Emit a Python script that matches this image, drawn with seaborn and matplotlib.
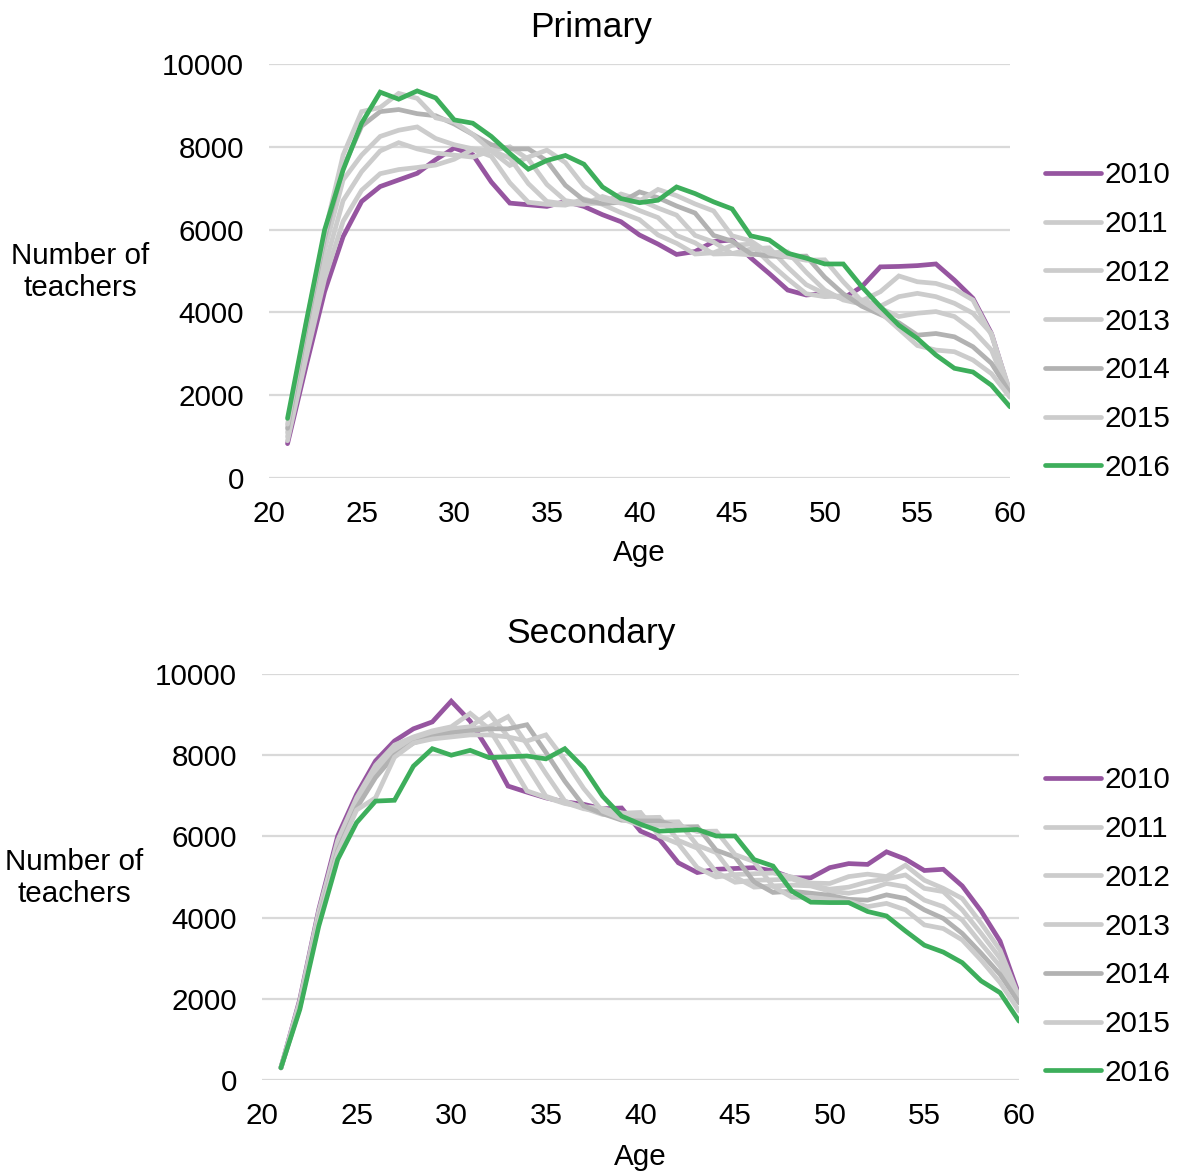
import numpy as np
import pandas as pd
import matplotlib
matplotlib.use("Agg")
import matplotlib.pyplot as plt
import seaborn as sns

sns.set_style("white")
plt.rcParams['font.family'] = ['Liberation Sans', 'DejaVu Sans']
plt.rcParams['text.color'] = 'black'
plt.rcParams['xtick.color'] = 'black'
plt.rcParams['ytick.color'] = 'black'

ages = list(range(21, 61))
years = ['2010', '2011', '2012', '2013', '2014', '2015', '2016']

# ---- Primary (ages 21..60)
primary = {
    '2010': [830, 2700, 4500, 5830, 6680, 7040, 7200, 7360, 7690, 7970,
             7810, 7150, 6640, 6600, 6560, 6680, 6560, 6360, 6190, 5870,
             5650, 5400, 5470, 5710, 5750, 5320, 4940, 4540, 4420, 4460,
             4340, 4620, 5100, 5110, 5130, 5170, 4780, 4340, 3490, 2050],
    '2011': [900, 2900, 4800, 6200, 6950, 7350, 7450, 7500, 7560, 7700,
             7940, 7770, 7130, 6660, 6610, 6590, 6740, 6610, 6410, 6240,
             5870, 5670, 5410, 5440, 5620, 5650, 5200, 4810, 4450, 4380,
             4400, 4280, 4500, 4880, 4740, 4700, 4560, 4300, 3450, 2100],
    '2012': [1000, 3100, 5100, 6700, 7400, 7900, 8100, 7950, 7850, 7800,
             7750, 7910, 7730, 7110, 6680, 6620, 6610, 6800, 6660, 6460,
             6290, 5860, 5680, 5410, 5420, 5530, 5560, 5090, 4670, 4450,
             4330, 4300, 4150, 4380, 4460, 4380, 4220, 3980, 3490, 2000],
    '2013': [1100, 3400, 5500, 7200, 7800, 8250, 8400, 8480, 8200, 8050,
             7950, 7900, 8000, 7700, 7090, 6700, 6630, 6640, 6860, 6720,
             6520, 6350, 5860, 5700, 5420, 5390, 5440, 5460, 4970, 4540,
             4300, 4200, 4100, 3900, 3980, 4020, 3900, 3570, 3090, 2000],
    '2014': [1200, 3600, 5800, 7500, 8500, 8850, 8900, 8800, 8750, 8550,
             8300, 8050, 7950, 7950, 7660, 7070, 6710, 6630, 6660, 6910,
             6770, 6570, 6400, 5860, 5720, 5420, 5360, 5350, 5360, 4850,
             4450, 4150, 3950, 3750, 3450, 3490, 3410, 3170, 2770, 2050],
    '2015': [1300, 3700, 5900, 7800, 8850, 8950, 9290, 9170, 8700, 8600,
             8300, 7900, 7550, 7750, 7920, 7620, 7050, 6730, 6640, 6690,
             6970, 6820, 6620, 6450, 5850, 5730, 5430, 5340, 5260, 5270,
             4740, 4270, 4000, 3600, 3200, 3090, 3050, 2850, 2520, 1950],
    '2016': [1440, 3750, 5990, 7440, 8570, 9320, 9150, 9350, 9180, 8650,
             8570, 8250, 7840, 7460, 7670, 7790, 7580, 7030, 6750, 6650,
             6710, 7030, 6870, 6670, 6500, 5850, 5750, 5430, 5310, 5170,
             5170, 4620, 4140, 3690, 3370, 2970, 2650, 2560, 2240, 1720],
}

# ---- Secondary
secondary = {
    '2010': [300, 1990, 4200, 6010, 7040, 7860, 8350, 8650, 8820, 9330,
             8840, 8100, 7240, 7090, 6950, 6850, 6790, 6680, 6700, 6130,
             5930, 5350, 5110, 5190, 5210, 5230, 5150, 4980, 4980, 5230,
             5330, 5310, 5620, 5440, 5160, 5190, 4780, 4160, 3420, 2100],
    '2011': [300, 1950, 4150, 5900, 6950, 7750, 8250, 8450, 8600, 8700,
             9030, 8650, 7900, 7120, 6960, 6810, 6730, 6690, 6570, 6590,
             6010, 5820, 5230, 5000, 5060, 5080, 5100, 5000, 4850, 4840,
             5010, 5070, 5010, 5290, 4920, 4720, 4470, 3860, 3200, 2050],
    '2012': [300, 1900, 4100, 5800, 6850, 7650, 8200, 8400, 8550, 8650,
             8700, 9030, 8460, 7730, 6990, 6830, 6680, 6620, 6580, 6460,
             6470, 5900, 5710, 5120, 4870, 4920, 4930, 4950, 4800, 4700,
             4750, 4880, 4950, 5050, 4720, 4640, 4190, 3610, 3000, 2000],
    '2013': [300, 1850, 4000, 5700, 6800, 7550, 8100, 8350, 8500, 8600,
             8650, 8700, 8950, 8270, 7550, 6870, 6700, 6540, 6500, 6480,
             6350, 6360, 5780, 5600, 5000, 4750, 4780, 4800, 4780, 4650,
             4600, 4680, 4840, 4760, 4430, 4270, 3940, 3360, 2800, 1950],
    '2014': [300, 1800, 3950, 5650, 6700, 7450, 8000, 8300, 8450, 8550,
             8600, 8650, 8650, 8750, 8070, 7360, 6750, 6560, 6400, 6380,
             6380, 6230, 6240, 5660, 5490, 4880, 4620, 4650, 4600, 4550,
             4450, 4430, 4560, 4470, 4190, 3980, 3610, 3120, 2600, 1900],
    '2015': [300, 1800, 3900, 5600, 6650, 6950, 7950, 8300, 8400, 8450,
             8500, 8500, 8450, 8350, 8500, 7880, 7180, 6620, 6430, 6270,
             6270, 6270, 6120, 6130, 5550, 5380, 4770, 4500, 4500, 4450,
             4400, 4270, 4350, 4190, 3820, 3730, 3450, 2950, 2400, 1700],
    '2016': [300, 1740, 3790, 5430, 6340, 6870, 6890, 7730, 8160, 8000,
             8120, 7940, 7960, 7980, 7910, 8160, 7690, 6990, 6500, 6300,
             6130, 6150, 6170, 6010, 6010, 5430, 5270, 4650, 4380, 4370,
             4370, 4150, 4040, 3670, 3320, 3150, 2890, 2440, 2150, 1450],
}

colors = {'2010': '#9655A0', '2011': '#CCCCCC', '2012': '#CCCCCC',
          '2013': '#CCCCCC', '2014': '#B2B2B2', '2015': '#CCCCCC',
          '2016': '#3DAE5B'}
alphas = {'2010': 1.0, '2011': 0.75, '2012': 0.75, '2013': 0.75,
          '2014': 0.8, '2015': 0.75, '2016': 1.0}

FS = 21.3

fig = plt.figure(figsize=(11.77, 11.71), dpi=100)
ax_top = fig.add_axes([269/1177, 1 - 478/1171, 741/1177, 414/1171])
ax_bot = fig.add_axes([262/1177, 1 - 1080/1171, 757/1177, 406/1171])


def draw(ax, data, leg_x):
    for yr in years:
        sns.lineplot(x=ages, y=data[yr], ax=ax, color=colors[yr],
                     alpha=alphas[yr], linewidth=3.4, label=yr,
                     solid_joinstyle='miter', legend=False)
    ax.set_xlim(20, 60)
    ax.set_ylim(0, 10000)
    ax.set_xticks(range(20, 61, 5))
    ax.set_yticks(range(0, 10001, 2000))
    ax.yaxis.grid(True, color='#D9D9D9', linewidth=1.6)
    ax.set_axisbelow(True)
    for s in ax.spines.values():
        s.set_visible(False)
    ax.tick_params(axis='y', length=0, pad=18, labelsize=FS)
    ax.tick_params(axis='x', length=0, pad=16, labelsize=FS)
    ax.set_xlabel('')
    ax.set_ylabel('')
    handles, labels = ax.get_legend_handles_labels()
    for h in handles:
        h.set_alpha(1.0)
    leg = ax.legend(handles, labels, loc='center left',
                    bbox_to_anchor=(leg_x, 0.378), frameon=False,
                    fontsize=FS, handlelength=1.9, handletextpad=0.12,
                    labelspacing=0.70, borderpad=0, borderaxespad=0)
    for line in leg.get_lines():
        line.set_linewidth(3.4)
        line.set_solid_capstyle('round')


draw(ax_top, primary, 1.047)
draw(ax_bot, secondary, 1.034)

fig.text(591/1177, 1 - 28/1171, 'Primary', ha='center', va='center', fontsize=25.5)
fig.text(591/1177, 1 - 633/1171, 'Secondary', ha='center', va='center', fontsize=25.5)
fig.text(80/1177, 1 - 272/1171, 'Number of\nteachers', ha='center', va='center',
         fontsize=FS, multialignment='center')
fig.text(74/1177, 1 - 878/1171, 'Number of\nteachers', ha='center', va='center',
         fontsize=FS, multialignment='center')
fig.text(639/1177, 1 - 553/1171, 'Age', ha='center', va='center', fontsize=FS)
fig.text(640/1177, 1 - 1157/1171, 'Age', ha='center', va='center', fontsize=FS)

fig.savefig('out.png', dpi=100)
